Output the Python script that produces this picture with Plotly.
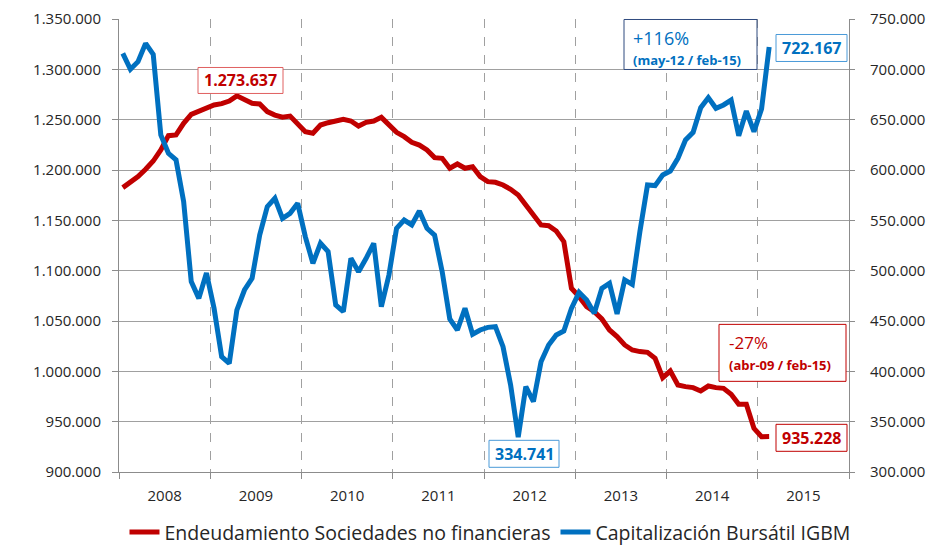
import plotly.graph_objects as go

# ---- data (monthly, ene-2008 .. feb-2015) ----
years = [2008, 2009, 2010, 2011, 2012, 2013, 2014, 2015]
months = [f"{y}-{m:02d}" for y in years for m in range(1, 13)][:86]

deuda = [
    1182500, 1187400, 1193400, 1200700, 1208900, 1219900, 1234100, 1234800, 1246400, 1255300, 1258600, 1261900,
    1264600, 1265900, 1268500, 1273637, 1269500, 1266200, 1265600, 1258000, 1254600, 1252500, 1253600, 1246400,
    1238100, 1236500, 1244700, 1247000, 1248700, 1250300, 1248700, 1243700, 1247400, 1248700, 1252300, 1244700,
    1237400, 1233100, 1227500, 1224800, 1219900, 1212300, 1211600, 1201700, 1206000, 1201700, 1203300, 1193400,
    1188400, 1187800, 1185100, 1180800, 1175200, 1165200, 1155300, 1145400, 1144700, 1139400, 1128800, 1082500,
    1074200, 1064300, 1059300, 1052000, 1041100, 1034500, 1026200, 1021200, 1019600, 1018900, 1013000, 993700,
    1000300, 986400, 984800, 983800, 980500, 985400, 983800, 983100, 977200, 967200, 967200, 943400,
    935100, 935228,
]

igbm = [
    715900, 700000, 707600, 725800, 714900, 634800, 616600, 610000, 568600, 489100, 472500, 497600,
    462600, 414600, 408000, 460900, 480800, 492400, 535400, 563600, 571900, 552000, 557000, 566900,
    533800, 507300, 527200, 518900, 465900, 459300, 512300, 499000, 512300, 527200, 464300, 495700,
    542100, 550300, 545400, 559300, 542100, 535400, 499000, 452000, 441100, 462600, 436800, 441100,
    443700, 444400, 424500, 386500, 334741, 384800, 369900, 409600, 426200, 436100, 440100, 462600,
    478500, 470900, 457600, 482500, 487400, 457000, 490800, 486400, 538800, 585100, 584500, 595000,
    599000, 611600, 629800, 637400, 661900, 671900, 661300, 664600, 669500, 634100, 658600, 638100,
    660600, 722167,
]

left_ticks = [900000 + 50000 * k for k in range(10)]
right_ticks = [300000 + 50000 * k for k in range(10)]

name_red = "Endeudamiento Sociedades no financieras"
name_blue = "Capitalización Bursátil IGBM"

RED = "#C00000"
BLUE = "#0070C0"
GRID = "#A0A0A0"
AXIS = "#8C8C8C"
TXT = "#262626"
FONT = "Open Sans"

x = list(range(len(months)))

fig = go.Figure()
fig.add_trace(go.Scatter(x=x, y=deuda, name=name_red, mode="lines",
                         line=dict(color=RED, width=5), yaxis="y", text=months))
fig.add_trace(go.Scatter(x=x, y=igbm, name=name_blue, mode="lines",
                         line=dict(color=BLUE, width=5), yaxis="y2", text=months))

n_slots = 12 * len(years)
year_centers = [12 * k + 5.5 for k in range(len(years))]
year_bounds = [12 * k - 0.5 for k in range(len(years) + 1)]

# plot area in pixels
L, R, T, B = 119, 849, 18.5, 471.7
W, H = R - L, B - T

fig.update_layout(
    width=939, height=547,
    margin=dict(l=L, r=939 - R, t=T, b=547 - B, autoexpand=False),
    paper_bgcolor="white", plot_bgcolor="white",
    separators=",.",
    font=dict(family=FONT, size=15, color=TXT),
    showlegend=True,
    legend=dict(orientation="h", x=(490 - L) / W, xanchor="center",
                y=(B - 532) / H, yanchor="middle",
                font=dict(size=19.5, color=TXT), itemwidth=30, tracegroupgap=0),
    xaxis=dict(
        range=[-0.5, n_slots - 0.5], automargin=False,
        tickmode="array", tickvals=year_centers, ticktext=[str(y) for y in years],
        ticks="", showgrid=False, zeroline=False,
        showline=True, linecolor=AXIS, linewidth=1,
        tickfont=dict(size=15, color=TXT),
        ticklabelstandoff=10,
        minor=dict(tickmode="array", tickvals=year_bounds, ticks="outside", ticklen=6,
                   tickcolor=AXIS, showgrid=True, gridcolor=GRID, griddash="dash", gridwidth=1),
    ),
    yaxis=dict(
        range=[900000, 1350000], tickmode="array", tickvals=left_ticks, automargin=False,
        tickformat=",d", ticks="outside", ticklen=6, tickcolor=AXIS,
        showgrid=True, gridcolor=GRID, gridwidth=1, zeroline=False,
        showline=True, linecolor=AXIS, linewidth=1,
        tickfont=dict(size=15, color=TXT), ticklabelstandoff=8,
    ),
    yaxis2=dict(
        range=[300000, 750000], tickmode="array", tickvals=right_ticks, automargin=False,
        tickformat=",d", ticks="outside", ticklen=5, tickcolor=AXIS,
        overlaying="y", side="right", showgrid=False, zeroline=False,
        showline=True, linecolor=AXIS, linewidth=1,
        tickfont=dict(size=15, color=TXT), ticklabelstandoff=12,
    ),
)


def px2paper(px, py):
    return (px - L) / W, (B - py) / H


def rect(x0, y0, x1, y1, border):
    a0, b1 = px2paper(x0, y0)
    a1, b0 = px2paper(x1, y1)
    fig.add_shape(type="rect", xref="paper", yref="paper", x0=a0, x1=a1, y0=b0, y1=b1,
                  line=dict(color=border, width=1), fillcolor="white", layer="above")


def label(text, px, py, color, size, xanchor="center"):
    a, b = px2paper(px, py)
    fig.add_annotation(text=text, xref="paper", yref="paper", x=a, y=b,
                       xanchor=xanchor, yanchor="middle", showarrow=False,
                       font=dict(family=FONT, size=size, color=color))


# value labels
rect(198, 67, 283, 93, "#E06060")
label("<b>1.273.637</b>", 240.5, 80, RED, 16)
rect(776, 34, 847, 61, "#4A9AD8")
label("<b>722.167</b>", 811.5, 47.5, BLUE, 16)
rect(489, 440, 559, 467, "#4A9AD8")
label("<b>334.741</b>", 524, 453.5, BLUE, 16)
rect(776, 424, 847, 451, RED)
label("<b>935.228</b>", 811.5, 437.5, RED, 16)

# change boxes
rect(624, 19, 757, 69, "#2F4A7F")
label("+116%", 631, 38, BLUE, 18, xanchor="left")
label("<b>(may-12 / feb-15)</b>", 631, 60, BLUE, 13, xanchor="left")
rect(719, 324, 846, 381, RED)
label("-27%", 727, 342, RED, 17, xanchor="left")
label("<b>(abr-09 / feb-15)</b>", 727, 365, RED, 13, xanchor="left")

fig.write_html("out.html", config={"displayModeBar": False},
               post_script="document.body.style.margin='0';")
